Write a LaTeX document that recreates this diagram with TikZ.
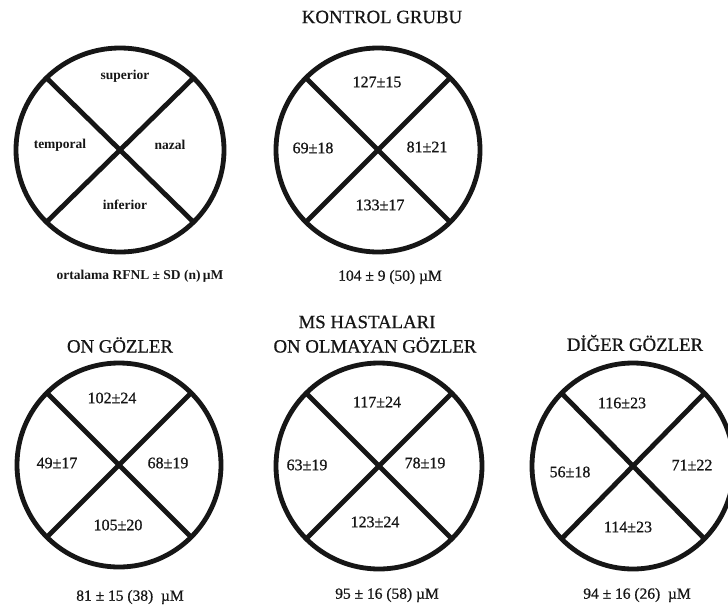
\documentclass[tikz,border=0pt]{standalone}
\usepackage{fontspec}
\setmainfont{Liberation Serif}
\newfontfamily\medserif{Liberation Serif}[FakeBold=0.7]
\usetikzlibrary{calc}
\definecolor{ink}{HTML}{161616}
\newcommand\eyering[3]{% coordinate name, x radius, y radius
  \draw[ring] (#1) ellipse [x radius=#2pt, y radius=#3pt];
  \draw[ring] ($(#1)+(45:#2pt and #3pt)$) -- ($(#1)+(225:#2pt and #3pt)$);
  \draw[ring] ($(#1)+(135:#2pt and #3pt)$) -- ($(#1)+(315:#2pt and #3pt)$);}
\begin{document}
\begin{tikzpicture}[x=1pt,y=-1pt,
  ring/.style={line width=4.8pt, draw=ink},
  val/.style={text=ink, font=\medserif\fontsize{16}{18}\selectfont, inner sep=0pt},
  sector/.style={text=ink, font=\bfseries\fontsize{13.5}{15}\selectfont, inner sep=0pt},
  ttl/.style={text=ink, font=\medserif\fontsize{18.8}{21}\selectfont, inner sep=0pt},
  capt/.style={text=ink, font=\medserif\fontsize{15.5}{17}\selectfont, inner sep=0pt},
  legend/.style={text=ink, font=\bfseries\fontsize{13.5}{15}\selectfont, inner sep=0pt}]
\useasboundingbox (0,0) rectangle (728,608);
\fill[white] (0,0) rectangle (728,608);

% ---- legend circle
\coordinate (c1) at (120,150);
\eyering{c1}{104}{102}
\node[sector] (sup) at (125,76) {superior};
\node[sector] (tem) at (60,145) {temporal};
\node[sector] (naz) at (170,145) {nazal};
\node[sector] (inf) at (125,205) {inferior};
\node[legend] (leg) at (140,276) {ortalama RFNL ± SD (n)\,µM};

% ---- control group
\node[ttl] (t2) at (382,17) {KONTROL GRUBU};
\coordinate (c2) at (378,150);
\eyering{c2}{102}{102}
\node[val] (c2s) at (377,82) {127±15};
\node[val] (c2t) at (313,148) {69±18};
\node[val] (c2n) at (427,147) {81±21};
\node[val] (c2i) at (380,205) {133±17};
\node[capt] (c2c) at (390,277) {104 ± 9 (50) µM};

% ---- ON eyes
\node[ttl] (t3) at (120,345) {ON GÖZLER};
\coordinate (c3) at (119,465);
\eyering{c3}{102}{102}
\node[val] (c3s) at (112,398) {102±24};
\node[val] (c3t) at (57,463) {49±17};
\node[val] (c3n) at (168,463) {68±19};
\node[val] (c3i) at (118,525) {105±20};
\node[capt] (c3c) at (130,597) {81 ± 15 (38) \ µM};

% ---- non-ON eyes
\node[ttl] (t4a) at (367,322) {MS HASTALARI};
\node[ttl] (t4b) at (375,345) {ON OLMAYAN GÖZLER};
\coordinate (c4) at (379,466);
\eyering{c4}{103}{103}
\node[val] (c4s) at (377,402) {117±24};
\node[val] (c4t) at (307,465) {63±19};
\node[val] (c4n) at (425,463) {78±19};
\node[val] (c4i) at (375,522) {123±24};
\node[capt] (c4c) at (387,595) {95 ± 16 (58) µM};

% ---- other eyes
\node[ttl] (t5) at (635,343) {DİĞER GÖZLER};
\coordinate (c5) at (633,466);
\eyering{c5}{101}{103}
\node[val] (c5s) at (622,403) {116±23};
\node[val] (c5t) at (570,472) {56±18};
\node[val] (c5n) at (692,465) {71±22};
\node[val] (c5i) at (628,527) {114±23};
\node[capt] (c5c) at (637,595) {94 ± 16 (26) \ µM};
\end{tikzpicture}
\end{document}
